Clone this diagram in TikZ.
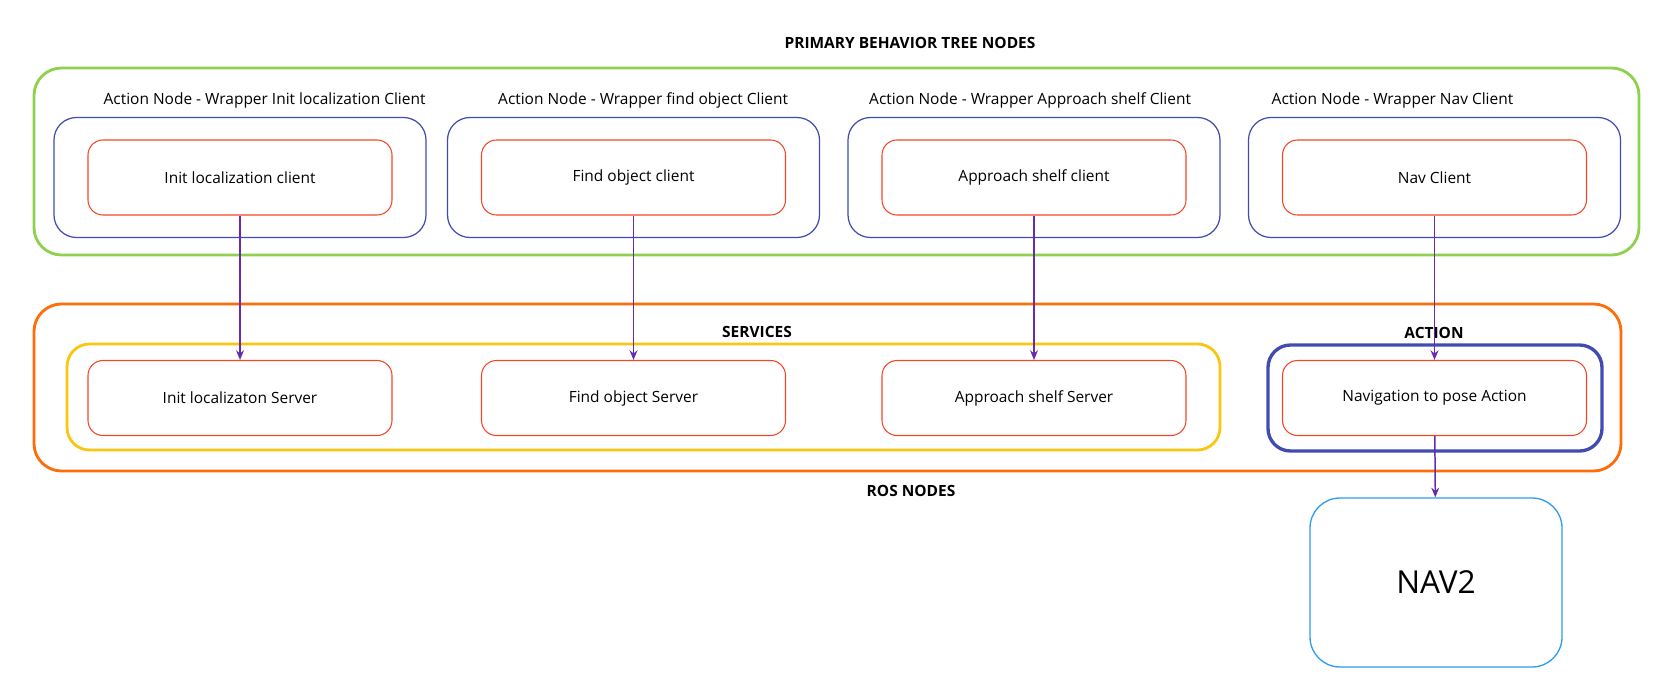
\documentclass[tikz,border=0pt]{standalone}
\usepackage{fontspec}
\setmainfont{Open Sans}
\usetikzlibrary{positioning,arrows.meta}

\definecolor{clired}{HTML}{F24726}
\definecolor{wrapblue}{HTML}{414BB2}
\definecolor{btgreen}{HTML}{8FD14F}
\definecolor{rosorange}{HTML}{FF6D0A}
\definecolor{srvyellow}{HTML}{FAC710}
\definecolor{navblue}{HTML}{2D9BF0}
\definecolor{arrowviolet}{HTML}{652CB3}

\begin{document}
\begin{tikzpicture}
    \tikzset{
    block/.style={
        rectangle,
        draw=clired,
        line width=0.6pt,
        rounded corners=0.3cm,
        minimum width=6.08cm,
        minimum height=1.5cm,
        align=center,
        font=\fontsize{8.8}{10}\selectfont
    },
    wrapper/.style={
        rectangle,
        draw=wrapblue,
        line width=0.7pt,
        rounded corners=0.45cm,
        minimum width=7.44cm,
        minimum height=2.4cm
    },
    group/.style={
        rectangle,
        line width=1.6pt,
        rounded corners=0.55cm
    },
    caption/.style={
        anchor=west,
        font=\fontsize{8.8}{10}\selectfont
    },
    title/.style={
        font=\fontsize{8.8}{10}\selectfont\bfseries
    },
    arrow/.style={
        -{Stealth[length=5.5pt,width=4.5pt]}, line width=0.85pt, draw=arrowviolet
    }
}
    \useasboundingbox (0,0) rectangle (33.2,-13.92);

    % Behavior tree
    \node[group, draw=btgreen, minimum width=32.1cm, minimum height=3.74cm] (bt) at (16.73,-3.23) {};
    \node[title] (bttitle) at (18.2,-0.86) {PRIMARY BEHAVIOR TREE NODES};

    \node[block] (cli1) at (4.8,-3.55) {Init localization client};
    \node[block] (cli2) at (12.67,-3.55) {Find object client};
    \node[block] (cli3) at (20.68,-3.55) {Approach shelf client};
    \node[block] (cli4) at (28.69,-3.55) {Nav Client};

    \node[wrapper] (wrap1) at (cli1) {};
    \node[wrapper] (wrap2) at (cli2) {};
    \node[wrapper] (wrap3) at (cli3) {};
    \node[wrapper] (wrap4) at (cli4) {};

    \node[caption] (cap1) at (1.95,-2.0) {Action Node - Wrapper Init localization Client};
    \node[caption] (cap2) at (9.84,-2.0) {Action Node - Wrapper find object Client};
    \node[caption] (cap3) at (17.26,-2.0) {Action Node - Wrapper Approach shelf Client};
    \node[caption] (cap4) at (25.31,-2.0) {Action Node - Wrapper Nav Client};

    % ROS
    \node[group, draw=rosorange, minimum width=31.74cm, minimum height=3.34cm] (ros) at (16.55,-7.75) {};
    \node[title] (rostitle) at (18.22,-9.82) {ROS NODES};

    \node[group, draw=srvyellow, rounded corners=0.45cm, minimum width=23.06cm, minimum height=2.12cm] (srvbox) at (12.87,-7.94) {};
    \node[title] (srvtitle) at (15.14,-6.64) {SERVICES};

    \node[group, draw=wrapblue, line width=1.9pt, rounded corners=0.45cm, minimum width=6.68cm, minimum height=2.12cm] (actbox) at (28.7,-7.96) {};
    \node[title] (acttitle) at (28.68,-6.66) {ACTION};

    \node[block, node distance=4.41cm, below of=cli1] (srv1) {Init localizaton Server};
    \node[block, node distance=4.41cm, below of=cli2] (srv2) {Find object Server};
    \node[block, node distance=4.41cm, below of=cli3] (srv3) {Approach shelf Server};
    \node[block, node distance=4.41cm, below of=cli4] (act) {Navigation to pose Action};

    \node[rectangle, draw=navblue, line width=0.75pt, rounded corners=0.6cm, minimum width=5.04cm, minimum height=3.38cm, font=\fontsize{18}{20}\selectfont] (nav2) at (28.72,-11.65) {NAV2};

    % Flèches
    \draw[arrow] (cli1) -- (srv1);
    \draw[arrow] (cli2) -- (srv2);
    \draw[arrow] (cli3) -- (srv3);
    \draw[arrow] (cli4) -- (act);
    \draw[arrow] (act) -- (nav2);
\end{tikzpicture}
\end{document}
